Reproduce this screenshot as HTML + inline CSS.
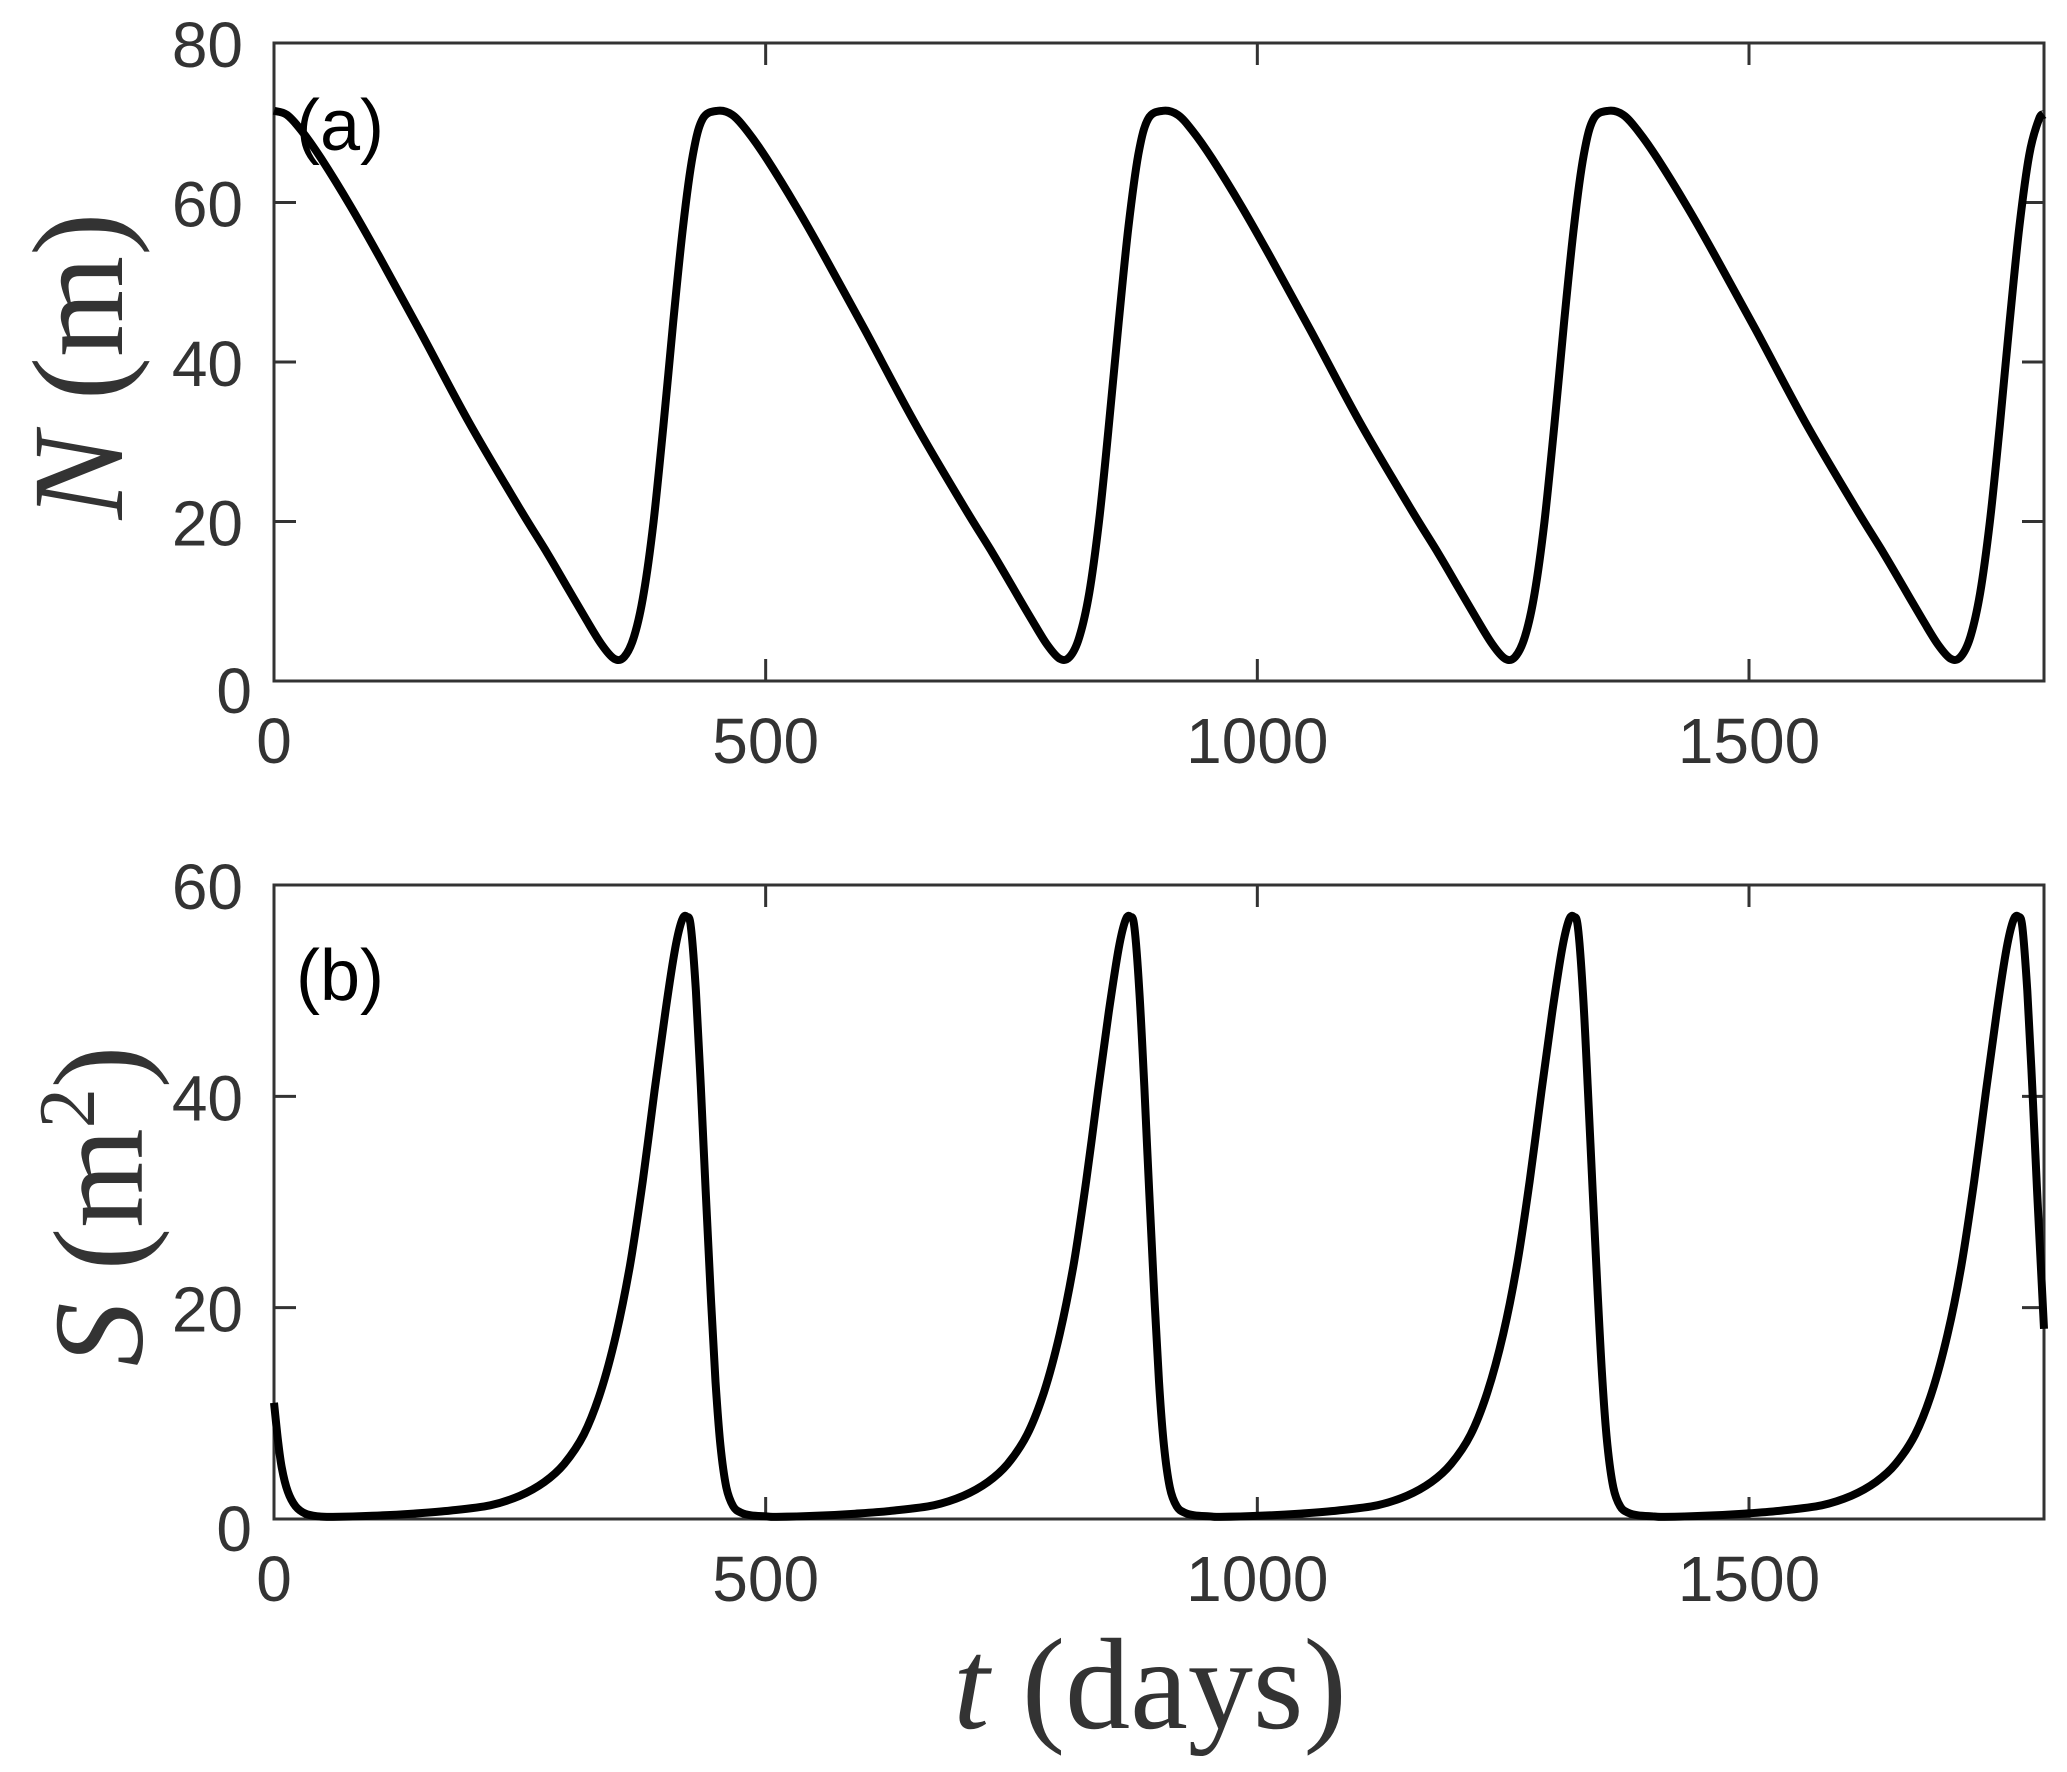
<!DOCTYPE html>
<html><head><meta charset="utf-8"><style>
html,body{margin:0;padding:0;background:#fff;}
svg{display:block;}
text{fill:#333;}
</style></head><body>
<svg id="chart" width="2067" height="1772" viewBox="0 0 2067 1772" xmlns="http://www.w3.org/2000/svg">
<g id="panelA"></g>
<g id="panelB"></g>
<text x="296" y="150" font-family="Liberation Sans, sans-serif" font-size="72" style="fill:#000">(a)</text>
<text x="296" y="1000" font-family="Liberation Sans, sans-serif" font-size="72" style="fill:#000">(b)</text>
<text transform="translate(122,366) rotate(-90)" text-anchor="middle" font-family="Liberation Serif, serif" font-size="130"><tspan font-style="italic">N</tspan> (m)</text>
<text transform="translate(142,1206) rotate(-90)" text-anchor="middle" font-family="Liberation Serif, serif" font-size="128"><tspan font-style="italic">S</tspan> (m<tspan font-size="80" dy="-48">2</tspan><tspan dy="48">)</tspan></text>
<text x="1150" y="1728" text-anchor="middle" font-family="Liberation Serif, serif" font-size="130"><tspan font-style="italic">t</tspan> (days)</text>
</svg>
<script>
// ---- data ----
const xTicks = [0, 500, 1000, 1500];
const yTicksA = [0, 20, 40, 60, 80];
const yTicksB = [0, 20, 40, 60];
// N: one cycle template (offset from peak, value), repeated at peak times
const nStartT = [0];
const nStartV = [71.5];
const nCycleOffsets = [0,15,30,50,80,110,150,200,250,280,300,320,335,348,358,368,378,388,398,408,418,428,438];
const nCycleValues  = [71.5,71,69,65.5,59.5,53,44,32.5,22,16,11.8,7.6,4.6,2.8,3,5.5,11,20,32,45,57,66,70.5];
const nPeakTimes = [-2, 451, 904, 1357];
const nEndT = [1800];
const nEndV = [71];
// S: initial transient then cycle template around peaks
const sStartT = [0,4,8,14,22,32,45];
const sStartV = [11,7.5,4.8,2.6,1.2,0.5,0.25];
const sCycleOffsets = [-360,-320,-280,-240,-200,-170,-145,-125,-105,-88,-72,-58,-45,-33,-22,-12,-5,0,4,9,14,19,24,29,34,40,47,55,65,80];
const sCycleValues  = [0.2,0.3,0.5,0.8,1.3,2.2,3.5,5.2,8,12,17.5,24,32,40.5,48,54,56.7,57,56,50,41,31,21.5,13,7,3,1.2,0.6,0.35,0.25];
const sPeakTimes = [420, 871, 1322, 1774];
const sEndT = [1800];
const sEndV = [18];

// ---- layout ----
const L = 274, R = 2044, XMAX = 1800;
const A = {top: 43, bot: 681, ymax: 80, g: document.getElementById('panelA'), ticks: yTicksA, name: 'a'};
const B = {top: 885, bot: 1519, ymax: 60, g: document.getElementById('panelB'), ticks: yTicksB, name: 'b'};
const NS = 'http://www.w3.org/2000/svg';
const xs = t => L + (t / XMAX) * (R - L);
const ysF = P => v => P.bot - (v / P.ymax) * (P.bot - P.top);

function mk(tag, attrs, parent) {
  const e = document.createElementNS(NS, tag);
  for (const k in attrs) e.setAttribute(k, attrs[k]);
  parent.appendChild(e);
  return e;
}

function buildSeries(startT, startV, offs, vals, peaks, endT, endV) {
  const pts = [];
  for (let i = 0; i < startT.length; i++) pts.push([startT[i], startV[i]]);
  peaks.forEach(p => {
    for (let i = 0; i < offs.length; i++) {
      const t = p + offs[i];
      if (t < 0 || t > XMAX) continue;
      if (pts.length && t <= pts[pts.length - 1][0] + 2) continue;
      pts.push([t, vals[i]]);
    }
  });
  for (let i = 0; i < endT.length; i++) {
    while (pts.length && pts[pts.length - 1][0] >= endT[i] - 2) pts.pop();
    pts.push([endT[i], endV[i]]);
  }
  return pts;
}

function smoothPath(pts, ys) {
  const P = pts.map(p => [xs(p[0]), ys(p[1])]);
  let d = 'M' + P[0][0].toFixed(1) + ',' + P[0][1].toFixed(1);
  for (let i = 0; i < P.length - 1; i++) {
    const p0 = P[Math.max(0, i - 1)], p1 = P[i], p2 = P[i + 1], p3 = P[Math.min(P.length - 1, i + 2)];
    const c1 = [p1[0] + (p2[0] - p0[0]) / 6, p1[1] + (p2[1] - p0[1]) / 6];
    const c2 = [p2[0] - (p3[0] - p1[0]) / 6, p2[1] - (p3[1] - p1[1]) / 6];
    d += 'C' + c1.map(v => v.toFixed(1)).join(',') + ' ' + c2.map(v => v.toFixed(1)).join(',') + ' ' + p2[0].toFixed(1) + ',' + p2[1].toFixed(1);
  }
  return d;
}

function drawAxes(P) {
  const ys = ysF(P);
  const frame = mk('rect', {x: L, y: P.top, width: R - L, height: P.bot - P.top, fill: 'none', stroke: '#333', 'stroke-width': 3}, P.g);
  
  
  xTicks.forEach(t => {
    const x = xs(t);
    const tk = mk('path', {d: `M${x},${P.bot}v-22M${x},${P.top}v22`, stroke: '#333', 'stroke-width': 3}, P.g);
    
    
    const lb = mk('text', {x: x, y: P.bot + 82, 'text-anchor': 'middle', 'font-family': 'Liberation Sans, sans-serif', 'font-size': 64}, P.g);
    lb.textContent = t;
    
    
  });
  P.ticks.forEach(v => {
    const y = ys(v);
    const tk = mk('path', {d: `M${L},${y}h22M${R},${y}h-22`, stroke: '#333', 'stroke-width': 3}, P.g);
    
    
    const lb = mk('text', {x: v === 0 ? 252 : 243, y: y + 24 + (v === 0 ? 8 : 0), 'text-anchor': 'end', 'font-family': 'Liberation Sans, sans-serif', 'font-size': 64}, P.g);
    lb.textContent = v;
    
    
  });
}

drawAxes(A);
drawAxes(B);

const nPts = buildSeries(nStartT, nStartV, nCycleOffsets, nCycleValues, nPeakTimes, nEndT, nEndV);
const lineN = mk('path', {d: smoothPath(nPts, ysF(A)), fill: 'none', stroke: '#000', 'stroke-width': 8, 'stroke-linejoin': 'round'}, A.g);



const sPts = buildSeries(sStartT, sStartV, sCycleOffsets, sCycleValues, sPeakTimes, sEndT, sEndV);
const lineS = mk('path', {d: smoothPath(sPts, ysF(B)), fill: 'none', stroke: '#000', 'stroke-width': 8, 'stroke-linejoin': 'round'}, B.g);


</script>
</body></html>
